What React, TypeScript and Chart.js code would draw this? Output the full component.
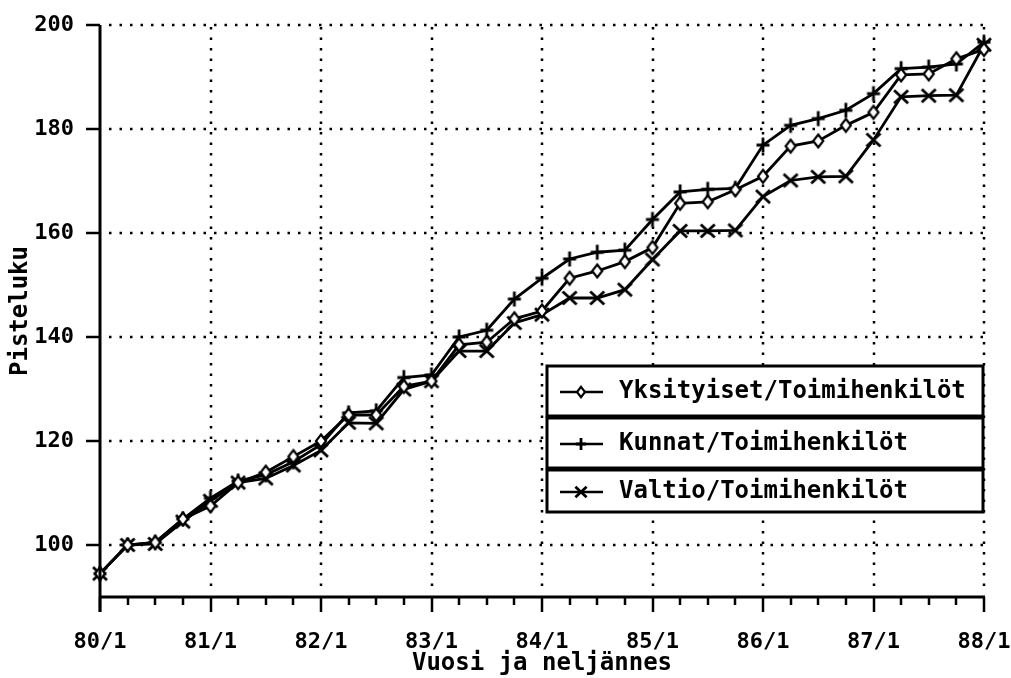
import React, { useEffect, useRef } from 'react';
import { Chart, registerables } from 'chart.js';

Chart.register(...registerables);

const quarterLabels = [
  '80/1', '80/2', '80/3', '80/4',
  '81/1', '81/2', '81/3', '81/4',
  '82/1', '82/2', '82/3', '82/4',
  '83/1', '83/2', '83/3', '83/4',
  '84/1', '84/2', '84/3', '84/4',
  '85/1', '85/2', '85/3', '85/4',
  '86/1', '86/2', '86/3', '86/4',
  '87/1', '87/2', '87/3', '87/4',
  '88/1',
];

const yearLabels = ['80/1', '81/1', '82/1', '83/1', '84/1', '85/1', '86/1', '87/1', '88/1'];

const yTicks = [100, 120, 140, 160, 180, 200];

const yksityiset = [
  94.5, 100, 100.5, 105, 107.5, 112, 114, 117,
  120, 125, 125, 130.5, 131.5, 138.5, 139, 143.5,
  145, 151.3, 152.7, 154.5, 157.2, 165.7, 166, 168.3,
  170.9, 176.7, 177.7, 180.7, 183.2, 190.4, 190.6, 193.5,
  195.3,
];

const kunnat = [
  94.5, 100, 100.5, 105, 109, 112.3, 113.5, 116,
  119.3, 125.4, 125.8, 132.2, 132.7, 140, 141.3, 147.3,
  151.3, 155, 156.3, 156.7, 162.6, 167.9, 168.4, 168.6,
  176.9, 180.7, 182, 183.6, 186.8, 191.6, 191.9, 192.5,
  196.7,
];

const valtio = [
  94.5, 100, 100.2, 104.5, 108.5, 112, 112.8, 115.3,
  118.2, 123.5, 123.4, 129.9, 131.5, 137.3, 137.3, 142.7,
  144.3, 147.5, 147.5, 149.1, 154.9, 160.4, 160.4, 160.5,
  167, 170.1, 170.8, 170.9, 177.9, 186.2, 186.4, 186.5,
  196.2,
];

const seriesNames = ['Yksityiset/Toimihenkilöt', 'Kunnat/Toimihenkilöt', 'Valtio/Toimihenkilöt'];
const markerKinds = ['diamond', 'plus', 'x'];

const FONT = '"DejaVu Sans Mono", monospace';

function drawMarker(ctx: CanvasRenderingContext2D, kind: string, cx: number, cy: number, s = 1) {
  ctx.save();
  ctx.strokeStyle = '#000';
  ctx.lineCap = 'butt';
  if (kind === 'diamond') {
    ctx.lineWidth = 2.2;
    ctx.fillStyle = '#fff';
    ctx.beginPath();
    ctx.moveTo(cx, cy - 6.5 * s);
    ctx.lineTo(cx + 5 * s, cy);
    ctx.lineTo(cx, cy + 6.5 * s);
    ctx.lineTo(cx - 5 * s, cy);
    ctx.closePath();
    ctx.fill();
    ctx.stroke();
  } else if (kind === 'plus') {
    ctx.lineWidth = 2.8;
    ctx.beginPath();
    ctx.moveTo(cx - 6.5 * s, cy);
    ctx.lineTo(cx + 6.5 * s, cy);
    ctx.moveTo(cx, cy - 7.5 * s);
    ctx.lineTo(cx, cy + 7.5 * s);
    ctx.stroke();
  } else {
    ctx.lineWidth = 2.8;
    ctx.beginPath();
    ctx.moveTo(cx - 7 * s, cy - 6.5 * s);
    ctx.lineTo(cx + 7 * s, cy + 6.5 * s);
    ctx.moveTo(cx + 7 * s, cy - 6.5 * s);
    ctx.lineTo(cx - 7 * s, cy + 6.5 * s);
    ctx.stroke();
  }
  ctx.restore();
}

function makeMarkerCanvas(kind: string) {
  const c = document.createElement('canvas');
  c.width = 20;
  c.height = 20;
  const ctx = c.getContext('2d')!;
  drawMarker(ctx, kind, 10, 10);
  return c;
}

const decor = {
  id: 'decor',
  beforeDatasetsDraw(chart: any) {
    const { ctx, chartArea: a, scales } = chart;
    const x = scales.x;
    const y = scales.y;
    ctx.save();
    ctx.strokeStyle = '#000';
    ctx.lineWidth = 2.5;
    ctx.setLineDash([2.5, 8]);
    for (const v of yTicks) {
      const py = Math.round(y.getPixelForValue(v));
      ctx.beginPath();
      ctx.moveTo(a.left + 9, py);
      ctx.lineTo(a.right + 1, py);
      ctx.stroke();
    }
    quarterLabels.forEach((l, i) => {
      if (i === 0 || !yearLabels.includes(l)) return;
      const px = Math.round(x.getPixelForValue(i));
      ctx.beginPath();
      ctx.moveTo(px, a.top + 2);
      ctx.lineTo(px, a.bottom - 4);
      ctx.stroke();
    });
    ctx.restore();
  },
  afterDraw(chart: any) {
    const { ctx, chartArea: a, scales } = chart;
    const x = scales.x;
    const y = scales.y;
    ctx.save();
    ctx.strokeStyle = '#000';
    ctx.setLineDash([]);
    // axes
    ctx.lineWidth = 3;
    ctx.beginPath();
    ctx.moveTo(a.left, a.top);
    ctx.lineTo(a.left, a.bottom + 15);
    ctx.moveTo(a.left, a.bottom);
    ctx.lineTo(a.right + 1, a.bottom);
    ctx.stroke();
    // y ticks
    ctx.lineWidth = 2.5;
    for (const v of yTicks) {
      const py = Math.round(y.getPixelForValue(v));
      ctx.beginPath();
      ctx.moveTo(a.left - 14, py);
      ctx.lineTo(a.left, py);
      ctx.stroke();
    }
    // x ticks
    quarterLabels.forEach((l, i) => {
      const px = Math.round(x.getPixelForValue(i));
      const len = yearLabels.includes(l) ? 15 : 8;
      ctx.beginPath();
      ctx.moveTo(px, a.bottom);
      ctx.lineTo(px, a.bottom + len);
      ctx.stroke();
    });
    // legend
    const lx = 547;
    const lr = 983;
    const rows = [
      [366, 416],
      [418, 468],
      [470, 512],
    ];
    ctx.lineWidth = 3;
    rows.forEach((r, i) => {
      ctx.fillStyle = '#fff';
      ctx.fillRect(lx, r[0], lr - lx, r[1] - r[0]);
      ctx.strokeRect(lx, r[0], lr - lx, r[1] - r[0]);
      const cy = (r[0] + r[1]) / 2 + 1;
      ctx.lineWidth = 2.5;
      ctx.beginPath();
      ctx.moveTo(560, cy);
      ctx.lineTo(603, cy);
      ctx.stroke();
      drawMarker(ctx, markerKinds[i], 581, cy, 0.8);
      ctx.fillStyle = '#000';
      ctx.font = `bold 24px ${FONT}`;
      ctx.textAlign = 'left';
      ctx.textBaseline = 'middle';
      ctx.fillText(seriesNames[i], 619, cy);
      ctx.lineWidth = 3;
    });
    ctx.restore();
  },
};

export default function App() {
  const ref = useRef<HTMLCanvasElement | null>(null);
  useEffect(() => {
    document.body.style.margin = '0';
    const canvas = ref.current!;
    const series = [yksityiset, kunnat, valtio];
    const chart = new Chart(canvas, {
      type: 'line',
      data: {
        labels: quarterLabels,
        datasets: series.map((d, i) => ({
          label: seriesNames[i],
          data: d,
          borderColor: '#000',
          borderWidth: 2.8,
          tension: 0,
          pointStyle: makeMarkerCanvas(markerKinds[i]) as any,
          pointRadius: 6,
          fill: false,
        })),
      },
      options: {
        animation: false,
        responsive: false,
        layout: { padding: { top: 25, right: 27, bottom: 0, left: 0 } },
        plugins: {
          legend: { display: false },
          tooltip: { enabled: false },
        },
        scales: {
          x: {
            type: 'category',
            offset: false,
            grid: { display: false },
            border: { display: false },
            ticks: {
              autoSkip: false,
              maxRotation: 0,
              minRotation: 0,
              padding: 24,
              color: '#000',
              font: { family: FONT, size: 22, weight: 'bold' },
              callback: (_v: any, i: number) =>
                yearLabels.includes(quarterLabels[i]) ? quarterLabels[i] : '',
            },
            title: {
              display: true,
              text: 'Vuosi ja neljännes',
              color: '#000',
              font: { family: FONT, size: 24, weight: 'bold' },
              padding: { top: 0, bottom: 0 },
            },
            afterFit: (s: any) => {
              s.height = 81;
              s.paddingLeft = 0;
              s.paddingRight = 0;
            },
          },
          y: {
            min: 90,
            max: 200,
            afterBuildTicks: (s: any) => {
              s.ticks = yTicks.map((v) => ({ value: v }));
            },
            grid: { display: false },
            border: { display: false },
            ticks: {
              padding: 18,
              color: '#000',
              font: { family: FONT, size: 22, weight: 'bold' },
            },
            title: {
              display: true,
              text: 'Pisteluku',
              color: '#000',
              font: { family: FONT, size: 24, weight: 'bold' },
              padding: { top: 6, bottom: 0 },
            },
            afterFit: (s: any) => {
              s.width = 100;
              s.paddingTop = 0;
              s.paddingBottom = 0;
            },
          },
        },
      },
      plugins: [decor],
    });
    return () => chart.destroy();
  }, []);
  return <canvas ref={ref} width={1011} height={678} style={{ display: 'block' }} />;
}
